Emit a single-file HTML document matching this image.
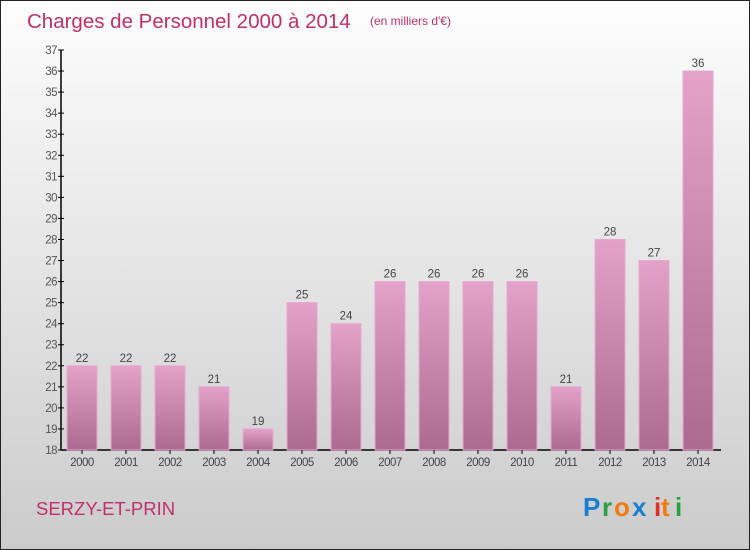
<!DOCTYPE html>
<html><head><meta charset="utf-8"><style>
body{margin:0;width:750px;height:550px;overflow:hidden}
svg{display:block;font-family:"Liberation Sans",sans-serif}
</style></head><body>
<svg id="c" width="750" height="550" viewBox="0 0 750 550">
<defs>
<linearGradient id="bg" x1="0" y1="0" x2="0" y2="1"><stop offset="0" stop-color="#fdfdfd"/><stop offset="1" stop-color="#cbcbcb"/></linearGradient>
<linearGradient id="bar" x1="0" y1="0" x2="0" y2="1"><stop offset="0" stop-color="#e4a2c9"/><stop offset="1" stop-color="#ad6a90"/></linearGradient>
</defs>
<rect x="0.5" y="0.5" width="749" height="549" fill="url(#bg)" stroke="#222"/>
<text x="27" y="28" font-size="20.5" fill="#c0306a">Charges de Personnel 2000 à 2014</text>
<text x="370" y="25" font-size="12" fill="#c0306a">(en milliers d'€)</text>
<text x="36" y="515" font-size="18.5" fill="#c0306a">SERZY-ET-PRIN</text>
<g font-size="26" font-weight="bold">
<text x="583" y="516" fill="#1a7fd0">P</text><text x="602" y="516" fill="#2aa040">r</text><text x="614" y="516" fill="#f07b10">o</text><text x="632" y="516" fill="#1a7fd0">x</text><text x="654" y="516" fill="#e03020">i</text><text x="661" y="516" fill="#f07b10">t</text><text x="675" y="516" fill="#2aa040">i</text>
</g>
<g id="plot"></g>
</svg>
<script>
const years=["2000","2001","2002","2003","2004","2005","2006","2007","2008","2009","2010","2011","2012","2013","2014"];
const values=[22,22,22,21,19,25,24,26,26,26,26,21,28,27,36];
const yTicks=[18,19,20,21,22,23,24,25,26,27,28,29,30,31,32,33,34,35,36,37];
const ns="http://www.w3.org/2000/svg";
const g=document.getElementById('plot');
const y=v=>450-(v-18)*400/19;
const x=i=>82+i*44;
function mk(t,a){const e=document.createElementNS(ns,t);for(const k in a)e.setAttribute(k,a[k]);g.appendChild(e);return e;}
let e=mk('line',{x1:61,y1:50,x2:61,y2:450,stroke:'#000','stroke-width':1.5});


e=mk('line',{x1:61,y1:450,x2:721,y2:450,stroke:'#000','stroke-width':1.5});


yTicks.forEach(t=>{
 mk('line',{x1:58,x2:64,y1:y(t),y2:y(t),stroke:'#000'});
 const l=mk('text',{x:57,y:y(t)+4,'font-size':11.5,'text-anchor':'end',fill:'#555','letter-spacing':'-0.5'});
 l.textContent=t;
 
 
});
years.forEach((yr,i)=>{
 const v=values[i];
 const b=mk('rect',{x:x(i)-15,y:y(v),width:30,height:450-y(v),fill:'url(#bar)',stroke:'#e8a8cf','stroke-width':1});
 
 
 const vl=mk('text',{x:x(i),y:y(v)-4,'font-size':11.5,'text-anchor':'middle',fill:'#444'});
 vl.textContent=v;
 
 
 mk('line',{x1:x(i),x2:x(i),y1:450,y2:454,stroke:'#000'});
 const xl=mk('text',{x:x(i),y:466,'font-size':11.5,'text-anchor':'middle',fill:'#444','letter-spacing':'-0.5'});
 xl.textContent=yr;
 
 
});
</script>
</body></html>
